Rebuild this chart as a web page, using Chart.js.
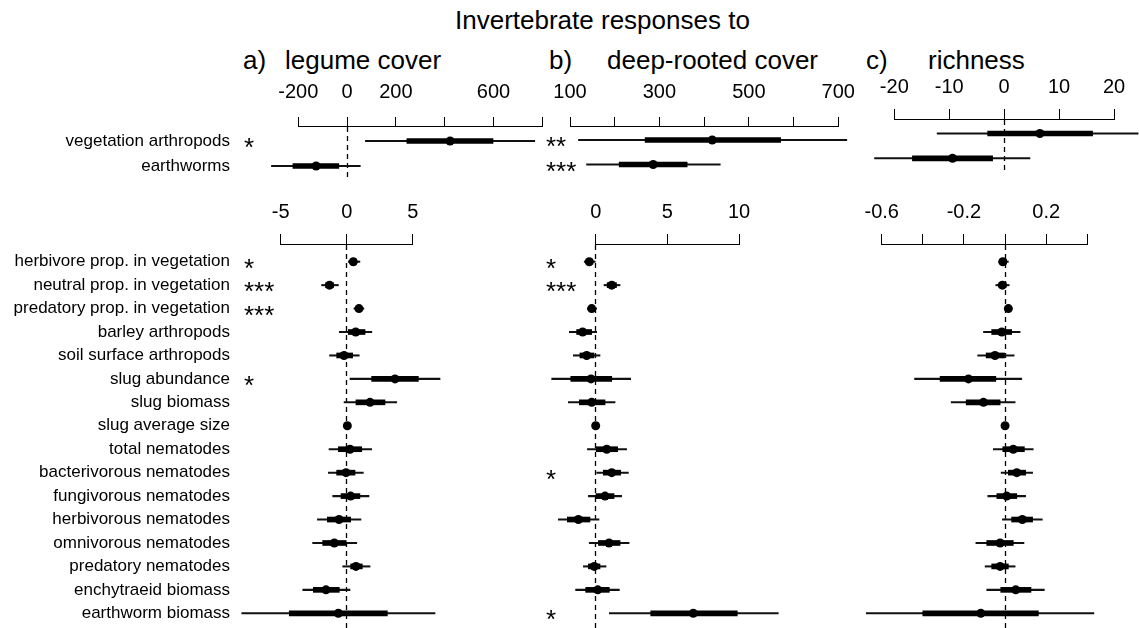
<!DOCTYPE html>
<html lang="en">
<head>
    <meta charset="UTF-8">
    <title>Invertebrate responses</title>
    <script src="https://cdn.jsdelivr.net/npm/chart.js"></script>
    <style>
        body {
            margin: 0;
            background: #fff;
            font-family: 'Liberation Sans', Arial, Helvetica, sans-serif;
        }
        .wrap {
            position: relative;
            width: 1139px;
            height: 628px;
            overflow: hidden;
            background: #fff;
        }
        .wrap canvas {
            position: absolute;
            left: 0;
            top: 0;
        }
        .title {
            position: absolute;
            font-size: 26px;
            line-height: 30px;
            color: #000;
            white-space: nowrap;
        }
    </style>
</head>
<body>
<div class="wrap">
    <div class="title" style="left:455px; top:5px;">Invertebrate responses to</div>
    <div class="title" style="left:243px; top:45px;">a)</div>
    <div class="title" style="left:285px; top:45px;">legume cover</div>
    <div class="title" style="left:549px; top:45px;">b)</div>
    <div class="title" style="left:607px; top:45px;">deep-rooted cover</div>
    <div class="title" style="left:866px; top:45px;">c)</div>
    <div class="title" style="left:928px; top:45px;">richness</div>

    <!-- canvases are bigger than the page so that nothing is squeezed at the edges -->
    <canvas id="aTop" width="1220" height="700"></canvas>
    <canvas id="bTop" width="1220" height="700"></canvas>
    <canvas id="cTop" width="1220" height="700"></canvas>
    <canvas id="aBottom" width="1220" height="700"></canvas>
    <canvas id="bBottom" width="1220" height="700"></canvas>
    <canvas id="cBottom" width="1220" height="700"></canvas>
</div>

<script>
    // rows
    var topRows = ['vegetation arthropods', 'earthworms'];
    var bottomRows = [
        'herbivore prop. in vegetation', 'neutral prop. in vegetation', 'predatory prop. in vegetation',
        'barley arthropods', 'soil surface arthropods', 'slug abundance', 'slug biomass',
        'slug average size', 'total nematodes', 'bacterivorous nematodes', 'fungivorous nematodes',
        'herbivorous nematodes', 'omnivorous nematodes', 'predatory nematodes',
        'enchytraeid biomass', 'earthworm biomass'
    ];

    // a) legume cover - abundances
    var legTopEst = [422, -127];
    var legTopLow = [75, -310];
    var legTopHigh = [769, 54];
    var legTopInLow = [245, -222];
    var legTopInHigh = [598, -34];
    var legTopStars = ['*', ''];
    var legTopTicks = [-200, 0, 200, 400, 600, 800];
    var legTopTickLabels = ['-200', '0', '200', '', '600', ''];

    // b) deep-rooted cover - abundances
    var deepTopEst = [418, 286];
    var deepTopLow = [119, 137];
    var deepTopHigh = [719, 436];
    var deepTopInLow = [268, 210];
    var deepTopInHigh = [571, 362];
    var deepTopStars = ['**', '***'];
    var deepTopTicks = [100, 200, 300, 400, 500, 600, 700];
    var deepTopTickLabels = ['100', '', '300', '', '500', '', '700'];

    // c) richness - abundances
    var richTopEst = [6.5, -9.4];
    var richTopLow = [-12.2, -23.6];
    var richTopHigh = [24.4, 4.7];
    var richTopInLow = [-3, -16.7];
    var richTopInHigh = [16.1, -2.1];
    var richTopStars = ['', ''];
    var richTopTicks = [-20, -10, 0, 10, 20];
    var richTopTickLabels = ['-20', '-10', '0', '10', '20'];

    // a) legume cover - other responses
    var legEst = [0.5, -1.3, 0.93, 0.68, -0.2, 3.66, 1.77, 0.05, 0.25, -0.05, 0.3, -0.58, -0.94, 0.7, -1.57, -0.63];
    var legLow = [0.12, -1.9, 0.55, -0.56, -1.3, 0.25, -0.2, -0.05, -1.34, -1.39, -1.06, -2.22, -2.58, -0.3, -3.33, -7.95];
    var legHigh = [1.0, -0.63, 1.3, 1.9, 0.95, 7.07, 3.79, 0.15, 1.89, 1.26, 1.69, 1.08, 0.76, 1.77, 0.25, 6.69];
    var legInLow = [0.3, -1.6, 0.7, 0.12, -0.76, 1.89, 0.7, 0, -0.63, -0.76, -0.43, -1.47, -1.82, 0.3, -2.53, -4.35];
    var legInHigh = [0.75, -1.0, 1.15, 1.39, 0.45, 5.43, 2.9, 0.1, 1.14, 0.63, 1.0, 0.3, 0, 1.18, -0.56, 3.08];
    var legStars = ['*', '***', '***', '', '', '*', '', '', '', '', '', '', '', '', '', ''];
    var legTicks = [-5, 0, 5];
    var legTickLabels = ['-5', '0', '5'];

    // b) deep-rooted cover - other responses
    var deepEst = [-0.45, 1.12, -0.28, -0.91, -0.63, -0.33, -0.28, 0, 0.77, 1.12, 0.65, -1.21, 0.93, -0.1, 0.14, 6.81];
    var deepLow = [-0.8, 0.58, -0.58, -1.84, -1.56, -3.07, -1.91, -0.1, -0.58, 0.07, -0.51, -2.61, -0.45, -0.86, -1.4, 0.95];
    var deepHigh = [0, 1.7, 0.07, 0.07, 0.3, 2.44, 1.35, 0.1, 2.16, 2.28, 1.81, 0.23, 2.33, 0.72, 1.65, 12.74];
    var deepInLow = [-0.65, 0.8, -0.45, -1.33, -1.1, -1.74, -1.14, -0.05, 0, 0.53, 0.02, -1.98, 0.19, -0.51, -0.7, 3.84];
    var deepInHigh = [-0.2, 1.45, -0.1, -0.28, -0.12, 1.12, 0.65, 0.05, 1.53, 1.74, 1.28, -0.4, 1.7, 0.3, 0.95, 9.88];
    var deepStars = ['*', '***', '', '', '', '', '', '', '', '*', '', '', '', '', '', '*'];
    var deepTicks = [0, 5, 10];
    var deepTickLabels = ['0', '5', '10'];

    // c) richness - other responses
    var richEst = [-0.011, -0.013, 0.016, -0.016, -0.049, -0.178, -0.105, 0, 0.04, 0.057, 0.008, 0.084, -0.024, -0.024, 0.052, -0.118];
    var richLow = [-0.03, -0.045, 0, -0.105, -0.133, -0.44, -0.262, -0.005, -0.057, -0.019, -0.084, -0.013, -0.142, -0.097, -0.089, -0.675];
    var richHigh = [0.016, 0.02, 0.03, 0.073, 0.044, 0.081, 0.049, 0.005, 0.137, 0.134, 0.1, 0.181, 0.092, 0.049, 0.191, 0.432];
    var richInLow = [-0.022, -0.03, 0.008, -0.065, -0.092, -0.316, -0.189, -0.003, -0.011, 0.016, -0.04, 0.032, -0.089, -0.065, -0.021, -0.4];
    var richInHigh = [0.006, 0.005, 0.024, 0.032, 0, -0.045, -0.024, 0.003, 0.094, 0.1, 0.057, 0.134, 0.04, 0.016, 0.126, 0.162];
    var richStars = ['', '', '', '', '', '', '', '', '', '', '', '', '', '', '', ''];
    var richTicks = [-0.6, -0.4, -0.2, 0, 0.2, 0.4];
    var richTickLabels = ['-0.6', '', '-0.2', '', '0.2', ''];

    var FONT = "'Liberation Sans', Arial, Helvetica, sans-serif";

    // axis line between end ticks, dashed zero line, significance stars
    var forestPlugin = {
        id: 'forest',
        beforeDatasetsDraw: function (chart) {
            var ctx = chart.ctx, area = chart.chartArea, x = chart.scales.x;
            var t = x.ticks;
            var yLine = Math.round(area.top) - 0.5;
            ctx.save();
            ctx.strokeStyle = '#000';
            ctx.lineWidth = 1;
            ctx.beginPath();
            ctx.moveTo(Math.round(x.getPixelForValue(t[0].value) - 0.5), yLine);
            ctx.lineTo(Math.round(x.getPixelForValue(t[t.length - 1].value) - 0.5) + 1, yLine);
            ctx.stroke();
            if (x.min < 0 && x.max > 0) {
                var x0 = Math.round(x.getPixelForValue(0) - 0.5) + 0.5;
                ctx.setLineDash([5, 4]);
                ctx.lineWidth = 1.3;
                ctx.beginPath();
                ctx.moveTo(x0, area.top);
                ctx.lineTo(x0, area.bottom);
                ctx.stroke();
            }
            ctx.restore();
        },
        afterDatasetsDraw: function (chart, args, opts) {
            var ctx = chart.ctx, area = chart.chartArea, y = chart.scales.y;
            var stars = opts.stars || [];
            ctx.save();
            ctx.fillStyle = '#000';
            ctx.font = '26px ' + FONT;
            ctx.textAlign = 'left';
            ctx.textBaseline = 'alphabetic';
            stars.forEach(function (s, i) {
                if (s) ctx.fillText(s, area.left + opts.offset, y.getPixelForValue(i) + 15);
            });
            ctx.restore();
        }
    };

    function makePanel(id, p) {
        var canvas = document.getElementById(id);
        var k = (p.p1 - p.p0) / (p.v1 - p.v0);
        var xMin = p.v0 + (p.area.left - p.p0) / k;
        var xMax = p.v0 + (p.area.right - p.p0) / k;
        var yMin = (p.area.top - p.row0) / p.step;
        var yMax = (p.area.bottom - p.row0) / p.step;
        var axisHeight = 60;
        var labelWidth = p.showLabels ? 238 : 0;

        var outer = p.rows.map(function (r, i) { return {x: [p.low[i], p.high[i]], y: i}; });
        var inner = p.rows.map(function (r, i) { return {x: [p.inLow[i], p.inHigh[i]], y: i}; });
        var points = p.rows.map(function (r, i) { return {x: p.est[i], y: i}; });

        return new Chart(canvas.getContext('2d'), {
            type: 'bar',
            data: {
                datasets: [{
                    type: 'bar',
                    data: outer,
                    backgroundColor: '#111',
                    borderWidth: 0,
                    barThickness: 1.4,
                    maxBarThickness: 1.4,
                    grouped: false,
                    order: 3
                }, {
                    type: 'bar',
                    data: inner,
                    backgroundColor: '#000',
                    borderWidth: 0,
                    barThickness: 5,
                    maxBarThickness: 5,
                    grouped: false,
                    order: 2
                }, {
                    type: 'scatter',
                    data: points,
                    pointRadius: 4.5,
                    pointBackgroundColor: '#000',
                    pointBorderWidth: 0,
                    showLine: false,
                    order: 1
                }]
            },
            options: {
                indexAxis: 'y',
                responsive: false,
                animation: false,
                events: [],
                layout: {
                    autoPadding: false,
                    padding: {
                        left: p.area.left - labelWidth,
                        right: canvas.width - p.area.right,
                        top: p.area.top - axisHeight,
                        bottom: canvas.height - p.area.bottom
                    }
                },
                scales: {
                    x: {
                        type: 'linear',
                        position: 'top',
                        min: xMin,
                        max: xMax,
                        offset: false,
                        bounds: 'data',
                        afterBuildTicks: function (s) {
                            s.ticks = p.ticks.map(function (v) { return {value: v}; });
                        },
                        afterFit: function (s) { s.height = axisHeight; },
                        ticks: {
                            autoSkip: false,
                            maxRotation: 0,
                            padding: p.tickPad,
                            color: '#000',
                            font: {family: FONT, size: 20},
                            callback: function (v, i) { return p.tickLabels[i]; }
                        },
                        grid: {
                            offset: false,
                            drawOnChartArea: false,
                            drawTicks: true,
                            tickLength: p.tickLen,
                            color: '#000',
                            lineWidth: 1
                        },
                        border: {display: false}
                    },
                    y: {
                        type: 'linear',
                        reverse: true,
                        display: p.showLabels,
                        min: yMin,
                        max: yMax,
                        offset: false,
                        bounds: 'data',
                        afterBuildTicks: function (s) {
                            s.ticks = p.rows.map(function (r, i) { return {value: i}; });
                        },
                        afterFit: function (s) { s.width = labelWidth; },
                        ticks: {
                            autoSkip: false,
                            padding: 8,
                            color: '#000',
                            font: {family: FONT, size: 17},
                            callback: function (v, i) { return p.rows[i]; }
                        },
                        grid: {display: false, drawTicks: false, offset: false},
                        border: {display: false}
                    }
                },
                plugins: {
                    legend: {display: false},
                    tooltip: {enabled: false},
                    forest: {stars: p.stars, offset: 6}
                }
            },
            plugins: [forestPlugin]
        });
    }

    makePanel('aTop', {
        rows: topRows, est: legTopEst, low: legTopLow, high: legTopHigh,
        inLow: legTopInLow, inHigh: legTopInHigh, stars: legTopStars,
        ticks: legTopTicks, tickLabels: legTopTickLabels, showLabels: true,
        area: {left: 238, right: 548, top: 127, bottom: 180},
        v0: -200, p0: 298.3, v1: 800, p1: 542.3, row0: 141, step: 25, tickLen: 10, tickPad: 13
    });
    makePanel('bTop', {
        rows: topRows, est: deepTopEst, low: deepTopLow, high: deepTopHigh,
        inLow: deepTopInLow, inHigh: deepTopInHigh, stars: deepTopStars,
        ticks: deepTopTicks, tickLabels: deepTopTickLabels, showLabels: false,
        area: {left: 540, right: 850, top: 127, bottom: 178},
        v0: 100, p0: 570, v1: 700, p1: 838.3, row0: 140, step: 24.5, tickLen: 10, tickPad: 13
    });
    makePanel('cTop', {
        rows: topRows, est: richTopEst, low: richTopLow, high: richTopHigh,
        inLow: richTopInLow, inHigh: richTopInHigh, stars: richTopStars,
        ticks: richTopTicks, tickLabels: richTopTickLabels, showLabels: false,
        area: {left: 860, right: 1139, top: 120, bottom: 171},
        v0: -20, p0: 894.3, v1: 20, p1: 1114, row0: 133.5, step: 24.8, tickLen: 11, tickPad: 10
    });
    makePanel('aBottom', {
        rows: bottomRows, est: legEst, low: legLow, high: legHigh,
        inLow: legInLow, inHigh: legInHigh, stars: legStars,
        ticks: legTicks, tickLabels: legTickLabels, showLabels: true,
        area: {left: 238, right: 548, top: 245, bottom: 628},
        v0: -5, p0: 280.7, v1: 5, p1: 412.7, row0: 261.7, step: 23.44, tickLen: 11, tickPad: 10
    });
    makePanel('bBottom', {
        rows: bottomRows, est: deepEst, low: deepLow, high: deepHigh,
        inLow: deepInLow, inHigh: deepInHigh, stars: deepStars,
        ticks: deepTicks, tickLabels: deepTickLabels, showLabels: false,
        area: {left: 540, right: 850, top: 245, bottom: 628},
        v0: 0, p0: 595.7, v1: 10, p1: 739, row0: 261.7, step: 23.44, tickLen: 11, tickPad: 10
    });
    makePanel('cBottom', {
        rows: bottomRows, est: richEst, low: richLow, high: richHigh,
        inLow: richInLow, inHigh: richInHigh, stars: richStars,
        ticks: richTicks, tickLabels: richTickLabels, showLabels: false,
        area: {left: 860, right: 1139, top: 245, bottom: 628},
        v0: -0.6, p0: 881.7, v1: 0.4, p1: 1087.3, row0: 261.7, step: 23.44, tickLen: 11, tickPad: 10
    });
</script>
</body>
</html>
